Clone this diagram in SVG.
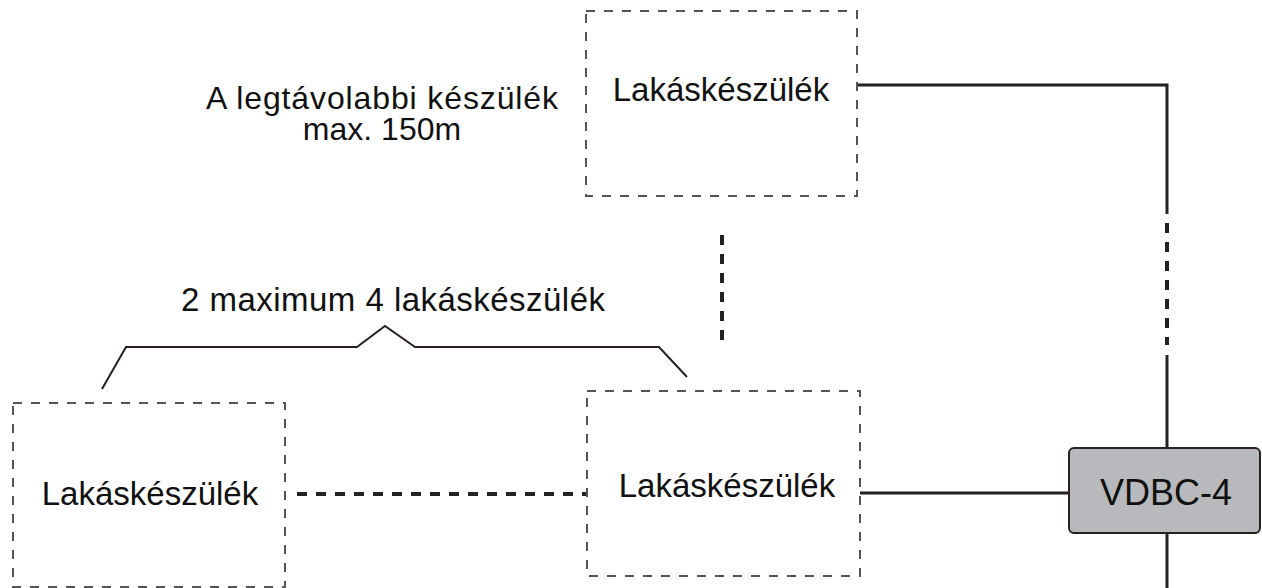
<svg xmlns="http://www.w3.org/2000/svg" width="1262" height="588" viewBox="0 0 1262 588">
<style>
.box{fill:none;stroke:#555;stroke-width:2;stroke-dasharray:9 9}
.lbl{font-family:"Liberation Sans",Arial,sans-serif;font-size:33px;fill:#111;text-anchor:middle}
.wire{fill:none;stroke:#222;stroke-width:3}
.dot{fill:none;stroke:#222;stroke-width:4;stroke-dasharray:10 9}
.brk{fill:none;stroke:#2a2020;stroke-width:2}
</style>
<rect width="1262" height="588" fill="#fff"/>
<g id="connectors">
<polyline class="wire" points="857,85 1167,85 1167,214"/>
<line class="dot" x1="1167" y1="223" x2="1167" y2="345"/>
<line class="wire" x1="1167" y1="355" x2="1167" y2="448"/>
<line class="wire" x1="860" y1="493" x2="1069" y2="493"/>
<line class="wire" x1="1167" y1="533" x2="1167" y2="588"/>
<line class="dot" x1="722" y1="235" x2="722" y2="345" stroke-dasharray="10 10"/>
<line class="dot" x1="297" y1="494" x2="587" y2="494" stroke-dasharray="11 12.3"/>
<polyline class="brk" points="102,389 126,347 357,347 385,326 415,347 659,347 687,377"/>
</g>
<g id="label-far">
<text class="lbl" x="382" y="109" style="font-size:32px" textLength="352">A legtávolabbi készülék</text>
<text class="lbl" x="382" y="140" style="font-size:32px">max. 150m</text>
</g>
<g id="label-count">
<text class="lbl" x="393" y="311" textLength="424">2 maximum 4 lakáskészülék</text>
</g>
<g id="node-top">
<rect class="box" x="586" y="11" width="271" height="185"/>
<text class="lbl" x="721" y="101">Lakáskészülék</text>
</g>
<g id="node-left">
<rect class="box" x="13" y="403" width="272" height="184"/>
<text class="lbl" x="150" y="505">Lakáskészülék</text>
</g>
<g id="node-mid">
<rect class="box" x="587" y="391" width="273" height="185"/>
<text class="lbl" x="727" y="497">Lakáskészülék</text>
</g>
<g id="node-vdbc">
<rect x="1069" y="448" width="191" height="85" rx="5" fill="#b8b9bc" stroke="#2a2020" stroke-width="2"/>
<text class="lbl" x="1166" y="505" style="font-size:36px">VDBC-4</text>
</g>
</svg>
